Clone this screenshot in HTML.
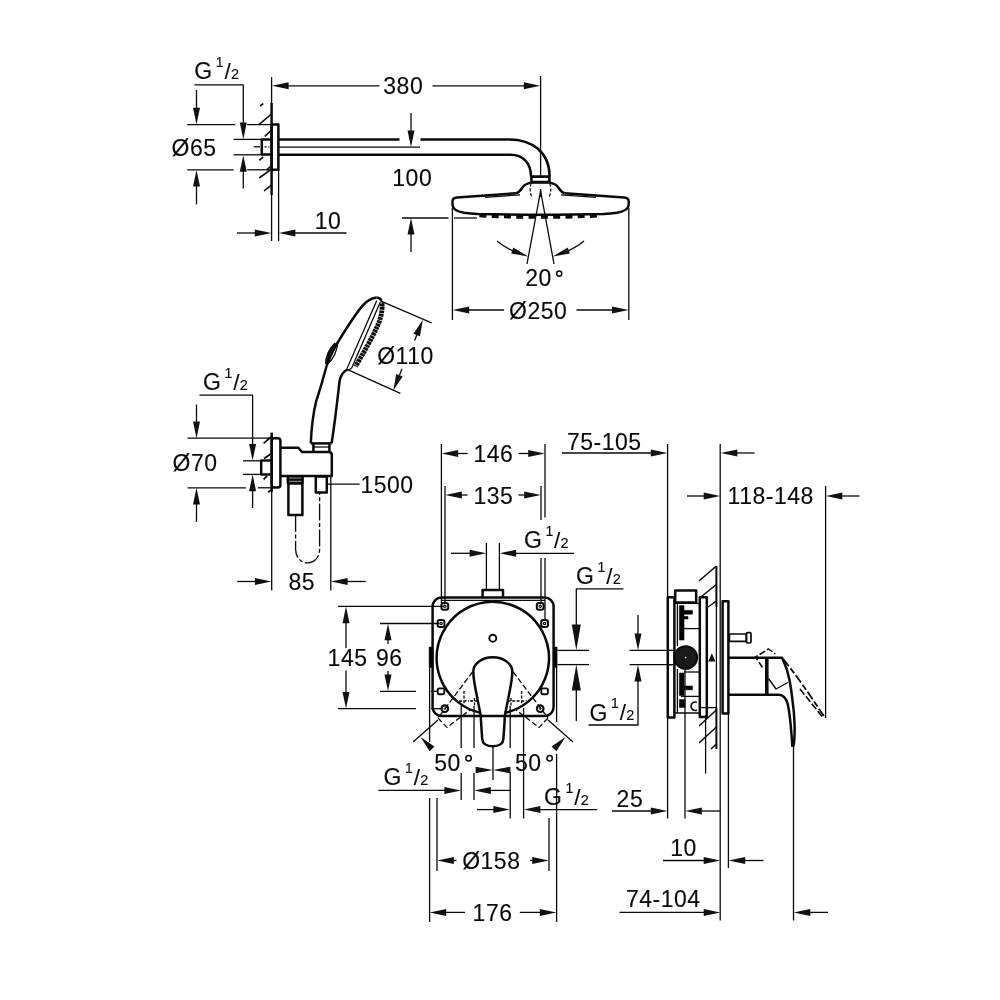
<!DOCTYPE html>
<html lang="en">
<head>
<meta charset="utf-8">
<title>Dimensional drawing</title>
<style>
html,body{margin:0;padding:0;background:#fff;}
body{width:1000px;height:1000px;overflow:hidden;}
svg{display:block;will-change:transform;}
svg *{stroke:#0a0a0a;}
svg text{font-family:"Liberation Sans",sans-serif;fill:#0a0a0a;stroke:#0a0a0a;stroke-width:0.12px;letter-spacing:0.5px;}
svg .a{fill:#111;stroke:none;}
</style>
</head>
<body>
<svg width="1000" height="1000" viewBox="0 0 1000 1000" fill="none" stroke-linecap="butt" stroke-linejoin="round">
<rect x="0" y="0" width="1000" height="1000" fill="#fff" style="stroke:none"/>
<line x1="271.6" y1="77" x2="271.6" y2="103" stroke-width="1.3"/>
<line x1="271.6" y1="103" x2="271.6" y2="195" stroke-width="2.5"/>
<line x1="271.6" y1="195" x2="271.6" y2="241" stroke-width="1.3"/>
<line x1="278.6" y1="170" x2="278.6" y2="241" stroke-width="1.3"/>
<line x1="260" y1="106" x2="263.2" y2="103.6" stroke-width="1.6"/>
<line x1="259.2" y1="124.4" x2="271.5" y2="114" stroke-width="1.6"/>
<line x1="264.8" y1="136.4" x2="271.5" y2="130" stroke-width="1.6"/>
<line x1="259.2" y1="160.4" x2="263.2" y2="156.8" stroke-width="1.6"/>
<line x1="267" y1="169.4" x2="271.5" y2="166" stroke-width="1.6"/>
<line x1="259.2" y1="178" x2="271.5" y2="169.2" stroke-width="1.6"/>
<line x1="264" y1="190.8" x2="271.5" y2="185.2" stroke-width="1.6"/>
<rect x="271.6" y="124.6" width="6.8" height="45.2" rx="0" stroke-width="2.5" fill="none"/>
<path d="M271.6 139.4 H261.8 V154.4 H271.6" stroke-width="2.5" fill="none"/>
<line x1="253.6" y1="146.8" x2="260" y2="146.8" stroke-width="1.3"/>
<line x1="264.5" y1="146.8" x2="269.5" y2="146.8" stroke-width="1.3" stroke-dasharray="2.2 1.6"/>
<path d="M278.6 139.4 H399.5" stroke-width="2.5" fill="none"/>
<path d="M420.5 139.4 H509 C532 139.4 549.6 152 549.6 176.5" stroke-width="2.5" fill="none"/>
<path d="M278.6 154.8 H510.5 C523 154.8 531 163 531 176.5" stroke-width="2.5" fill="none"/>
<line x1="278.6" y1="147.1" x2="420" y2="147.1" stroke-width="1.3"/>
<rect x="531.4" y="176.6" width="18" height="5.4" rx="0" stroke-width="2.6" fill="#fff"/>
<text x="194.3" y="79.2" font-size="23" text-anchor="start">G</text>
<text x="215.8" y="66.9" font-size="14" text-anchor="start">1</text>
<text x="224.4" y="78.8" font-size="22.5" text-anchor="start">/</text>
<text x="230.9" y="78.9" font-size="14.5" text-anchor="start">2</text>
<path d="M194.4 84.8 H243.3 V124" stroke-width="1.3" fill="none"/>
<polygon class="a" points="243.3,139.2 239.8,122.6 246.8,122.6"/>
<line x1="233.6" y1="139.4" x2="261.8" y2="139.4" stroke-width="1.3"/>
<line x1="233.6" y1="154.8" x2="261.8" y2="154.8" stroke-width="1.3"/>
<polygon class="a" points="243.3,155.2 246.8,171.8 239.8,171.8"/>
<line x1="243.3" y1="170" x2="243.3" y2="188.6" stroke-width="1.3"/>
<line x1="187.2" y1="124.6" x2="235.2" y2="124.6" stroke-width="1.3"/>
<line x1="247.2" y1="124.6" x2="271.6" y2="124.6" stroke-width="1.3"/>
<line x1="187.2" y1="169.8" x2="233.6" y2="169.8" stroke-width="1.3"/>
<line x1="247.2" y1="169.8" x2="271.6" y2="169.8" stroke-width="1.3"/>
<line x1="196.5" y1="90" x2="196.5" y2="110" stroke-width="1.3"/>
<polygon class="a" points="196.5,124.4 193,107.8 200,107.8"/>
<polygon class="a" points="196.5,170 200,186.6 193,186.6"/>
<line x1="196.5" y1="185" x2="196.5" y2="204.4" stroke-width="1.3"/>
<text x="171.5" y="156" font-size="23" text-anchor="start">Ø65</text>
<polygon class="a" points="272,85.8 288.6,82.3 288.6,89.3"/>
<line x1="287" y1="85.8" x2="379.5" y2="85.8" stroke-width="1.3"/>
<text x="383.3" y="94.2" font-size="23" text-anchor="start">380</text>
<line x1="432.5" y1="85.8" x2="525" y2="85.8" stroke-width="1.3"/>
<polygon class="a" points="540.4,85.8 523.8,89.3 523.8,82.3"/>
<line x1="540.6" y1="76" x2="540.6" y2="176.5" stroke-width="1.3"/>
<line x1="540.6" y1="189" x2="540.6" y2="197" stroke-width="1.3"/>
<line x1="411" y1="113" x2="411" y2="132" stroke-width="1.3"/>
<polygon class="a" points="411,147 407.5,130.4 414.5,130.4"/>
<text x="392.3" y="185.6" font-size="23" text-anchor="start">100</text>
<line x1="402" y1="218" x2="448.4" y2="218" stroke-width="1.3"/>
<line x1="454" y1="218" x2="477" y2="218" stroke-width="1.3"/>
<polygon class="a" points="411,218 414.5,234.6 407.5,234.6"/>
<line x1="411" y1="233" x2="411" y2="252" stroke-width="1.3"/>
<line x1="237" y1="233" x2="257" y2="233" stroke-width="1.3"/>
<polygon class="a" points="271.4,233 254.8,236.5 254.8,229.5"/>
<polygon class="a" points="278.8,233 295.4,229.5 295.4,236.5"/>
<line x1="294" y1="233" x2="346.5" y2="233" stroke-width="1.3"/>
<text x="314.7" y="229.4" font-size="23" text-anchor="start">10</text>
<path d="M516 193.2 C520 192.4 521.4 188.6 523.6 186 C525.4 184 527.6 183.4 531 182.6 H549.8 C553 183.4 555.4 184 557.2 186 C559.4 188.6 560.6 192.4 564.8 193.2" stroke-width="2.5" fill="none"/>
<path d="M531.2 183.4 C529.8 187 529.8 192 531.6 196.6 M549.4 196.6 C551.2 192 551.2 187 549.8 183.4" stroke-width="1.2" fill="none" stroke-dasharray="3.2 1.8"/>
<path d="M516 193.2 L457 197.5 C454 197.8 452.5 199.4 452.5 201.4 V205 C452.6 209 457 211.4 464 212.8 C470 213.6 474 213.8 478 214 C500 214.6 520 214.8 540.6 214.8 C561 214.8 581 214.6 603.2 214 C607 213.8 611 213.6 617 212.8 C624 211.4 628.6 209 628.7 205 V201.4 C628.7 199.4 627 197.8 624 197.5 L564.8 193.2" stroke-width="2.5" fill="none"/>
<path d="M485 197.4 L520 194.8" stroke-width="1.3" fill="none"/>
<path d="M561 194.8 L596 197.4" stroke-width="1.3" fill="none"/>
<path d="M479.4 215.4 C500 216.8 520 217 540.6 217 C561 217 581 216.8 602 215.4" stroke-width="3.6" fill="none" stroke-dasharray="7 5.3"/>
<line x1="452.4" y1="208" x2="452.4" y2="320" stroke-width="1.3"/>
<line x1="628.8" y1="208" x2="628.8" y2="320" stroke-width="1.3"/>
<polygon class="a" points="452.6,310 469.2,306.5 469.2,313.5"/>
<line x1="468" y1="310" x2="504" y2="310" stroke-width="1.3"/>
<text x="509" y="319" font-size="23" text-anchor="start">Ø250</text>
<line x1="576.5" y1="310" x2="613" y2="310" stroke-width="1.3"/>
<polygon class="a" points="628.6,310 612,313.5 612,306.5"/>
<line x1="540.6" y1="191" x2="527" y2="264" stroke-width="1.3"/>
<line x1="540.6" y1="191" x2="554" y2="264" stroke-width="1.3"/>
<path d="M497 241 C503 246 509 249.5 516 252" stroke-width="1.3" fill="none"/>
<polygon class="a" points="528.2,256.4 511.13,253.59 513.32,247.58"/>
<path d="M584 241 C578 246 572 249.5 565 252" stroke-width="1.3" fill="none"/>
<polygon class="a" points="552.8,256.4 567.68,247.58 569.87,253.59"/>
<text x="525.2" y="286" font-size="23" text-anchor="start">20</text>
<circle cx="559.2" cy="273.6" r="2.6" stroke-width="1.5" fill="none"/>
<path d="M376.4 297.6 C370 298.6 366 301.6 362 306.4 C354 316 346 329 339 340.4 C332 352 327 362 324.6 373 C319.6 392 317.6 396 316 402 C313.6 412 311.4 428 310.8 443.2" stroke-width="2.5" fill="none"/>
<path d="M376.4 297.6 C379 298 381 299.2 381.4 300.6" stroke-width="2.5" fill="none"/>
<path d="M347 369.8 C342.5 372 340.5 376 339.6 381 C338 394 335.6 418 331.6 443.2" stroke-width="2.5" fill="none"/>
<line x1="376.8" y1="300.6" x2="346.6" y2="369.6" stroke-width="1.3"/>
<line x1="380.2" y1="302.2" x2="351.6" y2="368.2" stroke-width="1.3"/>
<path d="M382 303.6 C382.8 312 380 321 376.5 328 C372 338 364 352 355.6 366.4" stroke-width="4.8" fill="none" stroke-dasharray="2.8 0.6"/>
<path d="M381.4 300.6 C383 303 383.5 305 382.8 307" stroke-width="1.3" fill="none"/>
<path d="M351.6 368.2 C349.5 369.6 348 369.9 347 369.8" stroke-width="1.3" fill="none"/>
<path d="M337.8 341.6 C331 348 326.6 356 326.8 364.6 C333 360 337.6 351 337.8 341.6 Z" stroke-width="1.3" fill="none"/>
<path d="M335.6 343.6 C330 349.6 326.4 356.6 326.6 364" stroke-width="3.2" fill="none"/>
<line x1="310.8" y1="443.4" x2="331.6" y2="443.4" stroke-width="2.5"/>
<path d="M313.4 443.4 L313.4 451.6 M329.4 443.4 L329.4 451.8" stroke-width="2.5" fill="none"/>
<line x1="313.4" y1="447" x2="329.4" y2="447" stroke-width="1.3"/>
<line x1="380.4" y1="300.8" x2="431.6" y2="322.9" stroke-width="1.3"/>
<line x1="347.6" y1="369.6" x2="400.4" y2="393.3" stroke-width="1.3"/>
<polygon class="a" points="422.9,319.6 419.98,336.31 413.49,333.71"/>
<line x1="417" y1="334.4" x2="414.6" y2="340.4" stroke-width="1.3"/>
<polygon class="a" points="393.3,390.6 396.22,373.89 402.71,376.49"/>
<line x1="399.4" y1="375.4" x2="402" y2="368.8" stroke-width="1.3"/>
<text x="377.2" y="363.6" font-size="23" text-anchor="start">Ø110</text>
<line x1="271.7" y1="432.6" x2="271.7" y2="492" stroke-width="2.5"/>
<line x1="271.7" y1="492" x2="271.7" y2="590.5" stroke-width="1.3"/>
<line x1="263.6" y1="443.4" x2="271.8" y2="436.2" stroke-width="1.8"/>
<line x1="264" y1="458.6" x2="271.6" y2="453.6" stroke-width="1.8"/>
<line x1="263.6" y1="479.4" x2="267.2" y2="475.8" stroke-width="1.8"/>
<line x1="268.2" y1="492.2" x2="271.8" y2="489.4" stroke-width="1.8"/>
<rect x="271.7" y="438.2" width="8.7" height="49.4" rx="2.5" stroke-width="2.5" fill="none"/>
<path d="M271.6 460.4 H261.2 V474.4 H271.6" stroke-width="2.5" fill="none"/>
<path d="M280.4 447.8 H298.4 L302 452 H329 C331 452 331.8 453 331.8 455 V476 H280.4" stroke-width="2.5" fill="none"/>
<rect x="287.8" y="476.6" width="14.8" height="6.2" rx="0" stroke-width="2.5" fill="#fff"/>
<line x1="287.8" y1="479.6" x2="302.6" y2="479.6" stroke-width="2.6"/>
<rect x="288.4" y="483.4" width="14" height="31.6" rx="0" stroke-width="2.5" fill="none"/>
<rect x="315.8" y="476.6" width="11" height="16" rx="0" stroke-width="2.5" fill="none"/>
<path d="M295.6 515 V549 C295.6 567.5 319.6 567.5 319.6 549 V493" stroke-width="1.3" fill="none" stroke-dasharray="17 2.4 4 2.4"/>
<line x1="327" y1="484.2" x2="359.6" y2="484.2" stroke-width="1.3"/>
<text x="360.4" y="492.8" font-size="23" text-anchor="start">1500</text>
<line x1="330.8" y1="477" x2="330.8" y2="590.5" stroke-width="1.3"/>
<line x1="237.2" y1="581.5" x2="256.5" y2="581.5" stroke-width="1.3"/>
<polygon class="a" points="271.5,581.5 254.9,585 254.9,578"/>
<polygon class="a" points="331,581.5 347.6,578 347.6,585"/>
<line x1="346" y1="581.5" x2="365.8" y2="581.5" stroke-width="1.3"/>
<text x="288.4" y="589.6" font-size="23" text-anchor="start">85</text>
<text x="203.1" y="390.4" font-size="23" text-anchor="start">G</text>
<text x="224.6" y="378.1" font-size="14" text-anchor="start">1</text>
<text x="233.2" y="390" font-size="22.5" text-anchor="start">/</text>
<text x="239.7" y="390.1" font-size="14.5" text-anchor="start">2</text>
<path d="M199.5 395.2 H252.6 V446" stroke-width="1.3" fill="none"/>
<polygon class="a" points="252.6,460.6 249.1,444 256.1,444"/>
<line x1="243" y1="460.8" x2="261" y2="460.8" stroke-width="1.3"/>
<line x1="243" y1="474.4" x2="261" y2="474.4" stroke-width="1.3"/>
<polygon class="a" points="252.6,474.6 256.1,491.2 249.1,491.2"/>
<line x1="252.6" y1="489" x2="252.6" y2="508" stroke-width="1.3"/>
<line x1="187.5" y1="438.2" x2="271.6" y2="438.2" stroke-width="1.3"/>
<line x1="187.5" y1="487.8" x2="246" y2="487.8" stroke-width="1.3"/>
<line x1="258" y1="487.8" x2="271.6" y2="487.8" stroke-width="1.3"/>
<line x1="196.5" y1="404.5" x2="196.5" y2="423" stroke-width="1.3"/>
<polygon class="a" points="196.5,438.2 193,421.6 200,421.6"/>
<polygon class="a" points="196.5,487.8 200,504.4 193,504.4"/>
<line x1="196.5" y1="502" x2="196.5" y2="522" stroke-width="1.3"/>
<text x="172.6" y="471.4" font-size="23" text-anchor="start">Ø70</text>
<rect x="432.6" y="597.4" width="121" height="118.6" rx="9" stroke-width="2.5" fill="none"/>
<line x1="441" y1="600.4" x2="545" y2="600.4" stroke-width="1.3"/>
<path d="M482.6 597.4 V590 H503 V597.4" stroke-width="2.5" fill="none"/>
<line x1="486.4" y1="543" x2="486.4" y2="590" stroke-width="1.3"/>
<line x1="499.4" y1="543" x2="499.4" y2="590" stroke-width="1.3"/>
<path d="M480.64 712.87 A56.2 56.2 0 1 1 504.96 712.87" stroke-width="2.5" fill="none"/>
<circle cx="492.8" cy="638.2" r="3.5" stroke-width="1.9" fill="none"/>
<rect x="441.4" y="602.9" width="6.8" height="6.8" rx="2.2" stroke-width="2" fill="none"/>
<circle cx="444.8" cy="606.3" r="1.2" stroke-width="1.2" fill="none"/>
<rect x="536.8" y="602.9" width="6.8" height="6.8" rx="2.2" stroke-width="2" fill="none"/>
<circle cx="540.2" cy="606.3" r="1.2" stroke-width="1.2" fill="none"/>
<rect x="437.6" y="620.1" width="6.8" height="6.8" rx="2.2" stroke-width="2" fill="none"/>
<circle cx="441" cy="623.5" r="1.2" stroke-width="1.2" fill="none"/>
<rect x="541.2" y="620.1" width="6.8" height="6.8" rx="2.2" stroke-width="2" fill="none"/>
<circle cx="544.6" cy="623.5" r="1.2" stroke-width="1.2" fill="none"/>
<rect x="437.7" y="688.4" width="6.6" height="5.8" rx="1.6" stroke-width="1.9" fill="none"/>
<rect x="541.3" y="688.4" width="6.6" height="5.8" rx="1.6" stroke-width="1.9" fill="none"/>
<circle cx="444.8" cy="708.7" r="3.3" stroke-width="2.2" fill="none"/>
<circle cx="444.8" cy="708.7" r="0.8" stroke-width="0.9" fill="none"/>
<circle cx="540.2" cy="708.7" r="3.3" stroke-width="2.2" fill="none"/>
<circle cx="540.2" cy="708.7" r="0.8" stroke-width="0.9" fill="none"/>
<rect x="429.6" y="647.5" width="2.8" height="19.5" rx="0" stroke-width="1.6" fill="#000"/>
<rect x="553.8" y="647.5" width="2.8" height="19.5" rx="0" stroke-width="1.6" fill="#000"/>
<path d="M480.8 716 C479 706 475.4 690 474 680 C473.4 676 473.3 674 473.3 671.5 C473.3 663.7 482 657.3 492.8 657.3 C503.6 657.3 512.3 663.7 512.3 671.5 C512.3 674 512.2 676 511.6 680 C510.2 690 506.6 706 504.8 716" stroke-width="2.5" fill="none"/>
<path d="M480.8 716 C481 724 481.8 732 482.2 739 C482.6 744.5 487 746.2 492.8 746.2 C498.6 746.2 503 744.5 503.4 739 C503.8 732 504.6 724 504.8 716" stroke-width="2.5" fill="none"/>
<line x1="472.5" y1="672" x2="438" y2="718" stroke-width="1.3" stroke-dasharray="5.5 2.6"/>
<line x1="513.2" y1="672" x2="548" y2="718" stroke-width="1.3" stroke-dasharray="5.5 2.6"/>
<path d="M438 718 L447 727.4 L470 710" stroke-width="1.3" fill="none" stroke-dasharray="5.5 2.6"/>
<path d="M548 718 L539 727.4 L516 710" stroke-width="1.3" fill="none" stroke-dasharray="5.5 2.6"/>
<path d="M464 691 V704 M459 701 H469 M470 701 H478 M474.5 698 V706" stroke-width="1.3" fill="none" stroke-dasharray="3 1.6"/>
<path d="M521.6 691 V704 M516.6 701 H526.6 M507.6 701 H515.6 M511 698 V706" stroke-width="1.3" fill="none" stroke-dasharray="3 1.6"/>
<line x1="413" y1="742" x2="438" y2="720" stroke-width="1.3"/>
<line x1="573" y1="742" x2="548" y2="720" stroke-width="1.3"/>
<polygon class="a" points="420.5,737 434.46,746.43 429.59,751.18"/>
<polygon class="a" points="565.5,737 556.41,751.18 551.54,746.43"/>
<text x="434.2" y="771" font-size="23" text-anchor="start">50</text>
<circle cx="468.6" cy="758.2" r="2.7" stroke-width="1.5" fill="none"/>
<text x="515" y="771" font-size="23" text-anchor="start">50</text>
<circle cx="549.6" cy="758.2" r="2.7" stroke-width="1.5" fill="none"/>
<line x1="493" y1="746.2" x2="493" y2="780" stroke-width="1.3"/>
<polygon class="a" points="493,770 475.6,766.8 475.6,773.2"/>
<polygon class="a" points="493,770 510.4,766.8 510.4,773.2"/>
<line x1="461.2" y1="706" x2="461.2" y2="748" stroke-width="1.3"/>
<line x1="461.2" y1="773" x2="461.2" y2="800" stroke-width="1.3"/>
<line x1="474" y1="706" x2="474" y2="748" stroke-width="1.3"/>
<line x1="474" y1="773" x2="474" y2="800" stroke-width="1.3"/>
<line x1="510.2" y1="706" x2="510.2" y2="748" stroke-width="1.3"/>
<line x1="510.2" y1="772" x2="510.2" y2="818.5" stroke-width="1.3"/>
<line x1="523.6" y1="708" x2="523.6" y2="818.5" stroke-width="1.3"/>
<text x="383.6" y="785.4" font-size="23" text-anchor="start">G</text>
<text x="405.1" y="773.1" font-size="14" text-anchor="start">1</text>
<text x="413.7" y="785" font-size="22.5" text-anchor="start">/</text>
<text x="420.2" y="785.1" font-size="14.5" text-anchor="start">2</text>
<line x1="378.5" y1="790.4" x2="445" y2="790.4" stroke-width="1.3"/>
<polygon class="a" points="461,790.4 444.4,793.9 444.4,786.9"/>
<polygon class="a" points="474.2,790.4 490.8,786.9 490.8,793.9"/>
<line x1="490" y1="790.4" x2="510.2" y2="790.4" stroke-width="1.3"/>
<text x="544.1" y="805" font-size="23" text-anchor="start">G</text>
<text x="565.6" y="792.7" font-size="14" text-anchor="start">1</text>
<text x="574.2" y="804.6" font-size="22.5" text-anchor="start">/</text>
<text x="580.7" y="804.7" font-size="14.5" text-anchor="start">2</text>
<line x1="477" y1="809.6" x2="494" y2="809.6" stroke-width="1.3"/>
<polygon class="a" points="510,809.6 493.4,813.1 493.4,806.1"/>
<polygon class="a" points="523.8,809.6 540.4,806.1 540.4,813.1"/>
<line x1="539" y1="809.6" x2="597" y2="809.6" stroke-width="1.3"/>
<line x1="429.6" y1="667" x2="429.6" y2="742" stroke-width="1.3"/>
<line x1="429.6" y1="798" x2="429.6" y2="922" stroke-width="1.3"/>
<line x1="556.6" y1="667" x2="556.6" y2="722" stroke-width="1.3"/>
<line x1="556.6" y1="754" x2="556.6" y2="922" stroke-width="1.3"/>
<line x1="437" y1="798" x2="437" y2="871" stroke-width="1.3"/>
<line x1="549" y1="818" x2="549" y2="871" stroke-width="1.3"/>
<polygon class="a" points="437.2,860.5 453.8,857 453.8,864"/>
<line x1="452" y1="860.5" x2="456.5" y2="860.5" stroke-width="1.3"/>
<text x="462.2" y="868.8" font-size="23" text-anchor="start">Ø158</text>
<line x1="530" y1="860.5" x2="534" y2="860.5" stroke-width="1.3"/>
<polygon class="a" points="548.8,860.5 532.2,864 532.2,857"/>
<polygon class="a" points="429.6,912.4 446.2,908.9 446.2,915.9"/>
<line x1="445" y1="912.4" x2="465" y2="912.4" stroke-width="1.3"/>
<text x="472.6" y="921.2" font-size="23" text-anchor="start">176</text>
<line x1="519.8" y1="912.4" x2="541" y2="912.4" stroke-width="1.3"/>
<polygon class="a" points="556.4,912.4 539.8,915.9 539.8,908.9"/>
<line x1="441.4" y1="444" x2="441.4" y2="603" stroke-width="1.3"/>
<line x1="545" y1="444" x2="545" y2="517.5" stroke-width="1.3"/>
<line x1="545" y1="558" x2="545" y2="620" stroke-width="1.3"/>
<polygon class="a" points="441.6,453.5 458.2,450 458.2,457"/>
<line x1="457" y1="453.5" x2="467.7" y2="453.5" stroke-width="1.3"/>
<text x="473.4" y="461.6" font-size="23" text-anchor="start">146</text>
<line x1="518.4" y1="453.5" x2="530" y2="453.5" stroke-width="1.3"/>
<polygon class="a" points="544.8,453.5 528.2,457 528.2,450"/>
<line x1="445" y1="486" x2="445" y2="603" stroke-width="1.3"/>
<line x1="541" y1="486" x2="541" y2="520" stroke-width="1.3"/>
<line x1="541" y1="558" x2="541" y2="603" stroke-width="1.3"/>
<polygon class="a" points="445.2,495 461.8,491.5 461.8,498.5"/>
<line x1="460" y1="495" x2="467.5" y2="495" stroke-width="1.3"/>
<text x="473.4" y="503.6" font-size="23" text-anchor="start">135</text>
<line x1="518.5" y1="495" x2="526" y2="495" stroke-width="1.3"/>
<polygon class="a" points="540.8,495 524.2,498.5 524.2,491.5"/>
<line x1="451" y1="553.3" x2="471" y2="553.3" stroke-width="1.3"/>
<polygon class="a" points="486.2,553.3 469.6,556.8 469.6,549.8"/>
<polygon class="a" points="499.6,553.3 516.2,549.8 516.2,556.8"/>
<line x1="515" y1="553.3" x2="574" y2="553.3" stroke-width="1.3"/>
<text x="523.9" y="548.4" font-size="23" text-anchor="start">G</text>
<text x="545.4" y="536.1" font-size="14" text-anchor="start">1</text>
<text x="554" y="548" font-size="22.5" text-anchor="start">/</text>
<text x="560.5" y="548.1" font-size="14.5" text-anchor="start">2</text>
<line x1="338" y1="606.4" x2="443" y2="606.4" stroke-width="1.3"/>
<line x1="338" y1="708.7" x2="416" y2="708.7" stroke-width="1.3"/>
<line x1="431" y1="708.7" x2="441.4" y2="708.7" stroke-width="1.3"/>
<polygon class="a" points="346,606.6 349.5,623.2 342.5,623.2"/>
<line x1="346" y1="622" x2="346" y2="648" stroke-width="1.3"/>
<line x1="346" y1="670.5" x2="346" y2="693" stroke-width="1.3"/>
<polygon class="a" points="346,708.5 342.5,691.9 349.5,691.9"/>
<text x="327.6" y="666.2" font-size="23" text-anchor="start">145</text>
<line x1="380" y1="623.5" x2="439" y2="623.5" stroke-width="1.3"/>
<line x1="380" y1="691.3" x2="416" y2="691.3" stroke-width="1.3"/>
<line x1="431" y1="691.3" x2="437.6" y2="691.3" stroke-width="1.3"/>
<polygon class="a" points="388,623.7 391.5,640.3 384.5,640.3"/>
<line x1="388" y1="639" x2="388" y2="644" stroke-width="1.3"/>
<line x1="388" y1="671" x2="388" y2="676" stroke-width="1.3"/>
<polygon class="a" points="388,691.1 384.5,674.5 391.5,674.5"/>
<text x="376" y="666.2" font-size="23" text-anchor="start">96</text>
<line x1="557.5" y1="650.4" x2="589" y2="650.4" stroke-width="1.3"/>
<line x1="557.5" y1="664.6" x2="589" y2="664.6" stroke-width="1.3"/>
<text x="576.1" y="584.2" font-size="23" text-anchor="start">G</text>
<text x="597.6" y="571.9" font-size="14" text-anchor="start">1</text>
<text x="606.2" y="583.8" font-size="22.5" text-anchor="start">/</text>
<text x="612.7" y="583.9" font-size="14.5" text-anchor="start">2</text>
<path d="M623.5 588.8 H576.3 V626" stroke-width="1.3" fill="none"/>
<polygon class="a" points="576.3,650.2 571.8,624.4 580.8,624.4"/>
<polygon class="a" points="576.3,664.6 580.8,690.4 571.8,690.4"/>
<line x1="576.3" y1="688" x2="576.3" y2="721" stroke-width="1.3"/>
<line x1="667.6" y1="444" x2="667.6" y2="818.5" stroke-width="1.3"/>
<line x1="720.2" y1="444" x2="720.2" y2="920.5" stroke-width="1.3"/>
<line x1="825.6" y1="486" x2="825.6" y2="718" stroke-width="1.3"/>
<line x1="685" y1="670" x2="685" y2="818.5" stroke-width="1.3"/>
<line x1="705.6" y1="715" x2="705.6" y2="773.5" stroke-width="1.3"/>
<line x1="728.4" y1="712" x2="728.4" y2="868" stroke-width="1.3"/>
<line x1="793.5" y1="745" x2="793.5" y2="920.5" stroke-width="1.3"/>
<text x="567" y="450" font-size="23" text-anchor="start">75-105</text>
<line x1="562" y1="453" x2="652" y2="453" stroke-width="1.3"/>
<polygon class="a" points="667.4,453 650.8,456.5 650.8,449.5"/>
<polygon class="a" points="720.7,453 737.3,449.5 737.3,456.5"/>
<line x1="736" y1="453" x2="754.5" y2="453" stroke-width="1.3"/>
<line x1="687" y1="496" x2="705" y2="496" stroke-width="1.3"/>
<polygon class="a" points="720.3,496 703.7,499.5 703.7,492.5"/>
<text x="727.6" y="504" font-size="23" text-anchor="start">118-148</text>
<polygon class="a" points="825.8,496 842.4,492.5 842.4,499.5"/>
<line x1="841" y1="496" x2="859.5" y2="496" stroke-width="1.3"/>
<line x1="629.5" y1="650.4" x2="672" y2="650.4" stroke-width="1.3"/>
<line x1="629.5" y1="664.6" x2="672" y2="664.6" stroke-width="1.3"/>
<line x1="638" y1="615" x2="638" y2="635" stroke-width="1.3"/>
<polygon class="a" points="638,650.2 634.5,633.6 641.5,633.6"/>
<polygon class="a" points="638,664.8 641.5,681.4 634.5,681.4"/>
<path d="M638 680 V725 H588.5" stroke-width="1.3" fill="none"/>
<text x="589.6" y="720.6" font-size="23" text-anchor="start">G</text>
<text x="611.1" y="708.3" font-size="14" text-anchor="start">1</text>
<text x="619.7" y="720.2" font-size="22.5" text-anchor="start">/</text>
<text x="626.2" y="720.3" font-size="14.5" text-anchor="start">2</text>
<rect x="667.8" y="597.2" width="6.6" height="120.4" rx="0" stroke-width="2.5" fill="none"/>
<rect x="675.2" y="590.4" width="21" height="12.2" rx="0" stroke-width="2.5" fill="none"/>
<rect x="699.8" y="597.2" width="7" height="119.8" rx="0" stroke-width="2.5" fill="none"/>
<path d="M674.4 603.4 H699.8 M674.4 713 H699.8" stroke-width="1.3" fill="none"/>
<line x1="677.4" y1="603.4" x2="677.4" y2="646" stroke-width="1.3"/>
<line x1="677.4" y1="669" x2="677.4" y2="713" stroke-width="1.3"/>
<rect x="679.4" y="605.6" width="4.6" height="34.4" rx="0" stroke-width="0.6" fill="#000"/>
<rect x="684" y="610.4" width="8.4" height="3.8" rx="0" stroke-width="0.6" fill="#000"/>
<rect x="684" y="616.5" width="4" height="2.5" rx="0" stroke-width="0.6" fill="#000"/>
<line x1="684" y1="628.6" x2="699.8" y2="628.6" stroke-width="1.3"/>
<rect x="679.4" y="673" width="4.6" height="22.6" rx="0" stroke-width="0.6" fill="#000"/>
<rect x="684" y="686" width="8.4" height="3.8" rx="0" stroke-width="0.6" fill="#000"/>
<line x1="684" y1="672" x2="699.8" y2="672" stroke-width="1.3"/>
<line x1="681" y1="696.4" x2="699.8" y2="696.4" stroke-width="1.3"/>
<rect x="679.4" y="699.6" width="5.6" height="7.8" rx="0" stroke-width="0.6" fill="#000"/>
<path d="M697 702.4 A4.2 4.2 0 1 0 697 710" stroke-width="1.6" fill="none"/>
<line x1="699.8" y1="707.6" x2="716" y2="707.6" stroke-width="1.3"/>
<circle cx="685.7" cy="657.6" r="11.4" stroke-width="2" fill="#1a1a1a"/>
<circle cx="685.7" cy="657.6" r="1.1" stroke-width="0.8" fill="#fff"/>
<path d="M667.8 650.4 H676 M667.8 664.6 H676" stroke-width="1.3" fill="none"/>
<line x1="716.4" y1="566" x2="716.4" y2="607" stroke-width="2"/>
<line x1="716.4" y1="708" x2="716.4" y2="749" stroke-width="2"/>
<line x1="699" y1="581" x2="716.4" y2="566" stroke-width="1.5"/>
<line x1="701.5" y1="596.5" x2="716.4" y2="584.5" stroke-width="1.5"/>
<line x1="708" y1="607" x2="716.4" y2="601" stroke-width="1.5"/>
<line x1="699" y1="726" x2="716.4" y2="710" stroke-width="1.5"/>
<line x1="699" y1="743" x2="716.4" y2="727" stroke-width="1.5"/>
<line x1="711" y1="749" x2="716.4" y2="744" stroke-width="1.5"/>
<line x1="716.4" y1="607" x2="716.4" y2="708" stroke-width="1.3"/>
<rect x="722.6" y="601.2" width="5.8" height="112.2" rx="0" stroke-width="2.5" fill="none"/>
<polygon class="a" points="711.8,653.2 708.2,661.4 715.4,661.4"/>
<rect x="729.4" y="634" width="17" height="7.4" rx="0" stroke-width="1.7" fill="none"/>
<rect x="746.4" y="632.6" width="4.6" height="10.4" rx="1.2" stroke-width="1.7" fill="none"/>
<path d="M728.4 657.8 H766 M728.4 694.8 H766" stroke-width="2.5" fill="none"/>
<line x1="766.8" y1="657.8" x2="766.8" y2="694.8" stroke-width="3.6"/>
<path d="M766 657.8 H782 C784.4 663 786 667 787 670 C789 677 790.4 684 791.2 690 C792.4 700 793.4 707 793.8 712 C794.6 722 794.8 728 794.6 734 C794.4 740 794 744 793.2 746.8" stroke-width="2.5" fill="none"/>
<path d="M766 694.8 H779 C783.4 695 785.8 698 787.4 703 C789.6 711 790.8 722 792.4 746.8" stroke-width="2.5" fill="none"/>
<path d="M768.5 678.5 L776 689 L788 682.5" stroke-width="1.3" fill="none"/>
<path d="M762.5 667.5 L755.5 657 L768.5 649 L775.4 654" stroke-width="1.5" fill="none" stroke-dasharray="6.5 2.2"/>
<path d="M783.4 659.4 C797 676 812 698 825.2 718.2" stroke-width="1.8" fill="none" stroke-dasharray="9 2.6 6 2.6"/>
<path d="M800 689 L823 717.6" stroke-width="1.6" fill="none" stroke-dasharray="7 2.4"/>
<text x="616.6" y="806.6" font-size="23" text-anchor="start">25</text>
<line x1="612" y1="811" x2="652" y2="811" stroke-width="1.3"/>
<polygon class="a" points="667.4,811 650.8,814.5 650.8,807.5"/>
<polygon class="a" points="685.2,811 701.8,807.5 701.8,814.5"/>
<line x1="700" y1="811" x2="720.5" y2="811" stroke-width="1.3"/>
<text x="670.2" y="856" font-size="23" text-anchor="start">10</text>
<line x1="663" y1="860.5" x2="705" y2="860.5" stroke-width="1.3"/>
<polygon class="a" points="720.3,860.5 703.7,864 703.7,857"/>
<polygon class="a" points="728.6,860.5 745.2,857 745.2,864"/>
<line x1="744" y1="860.5" x2="763.5" y2="860.5" stroke-width="1.3"/>
<text x="626" y="907.2" font-size="23" text-anchor="start">74-104</text>
<line x1="619.5" y1="912.4" x2="705" y2="912.4" stroke-width="1.3"/>
<polygon class="a" points="720.3,912.4 703.7,915.9 703.7,908.9"/>
<polygon class="a" points="793.7,912.4 810.3,908.9 810.3,915.9"/>
<line x1="809" y1="912.4" x2="828" y2="912.4" stroke-width="1.3"/>
</svg>
</body>
</html>
